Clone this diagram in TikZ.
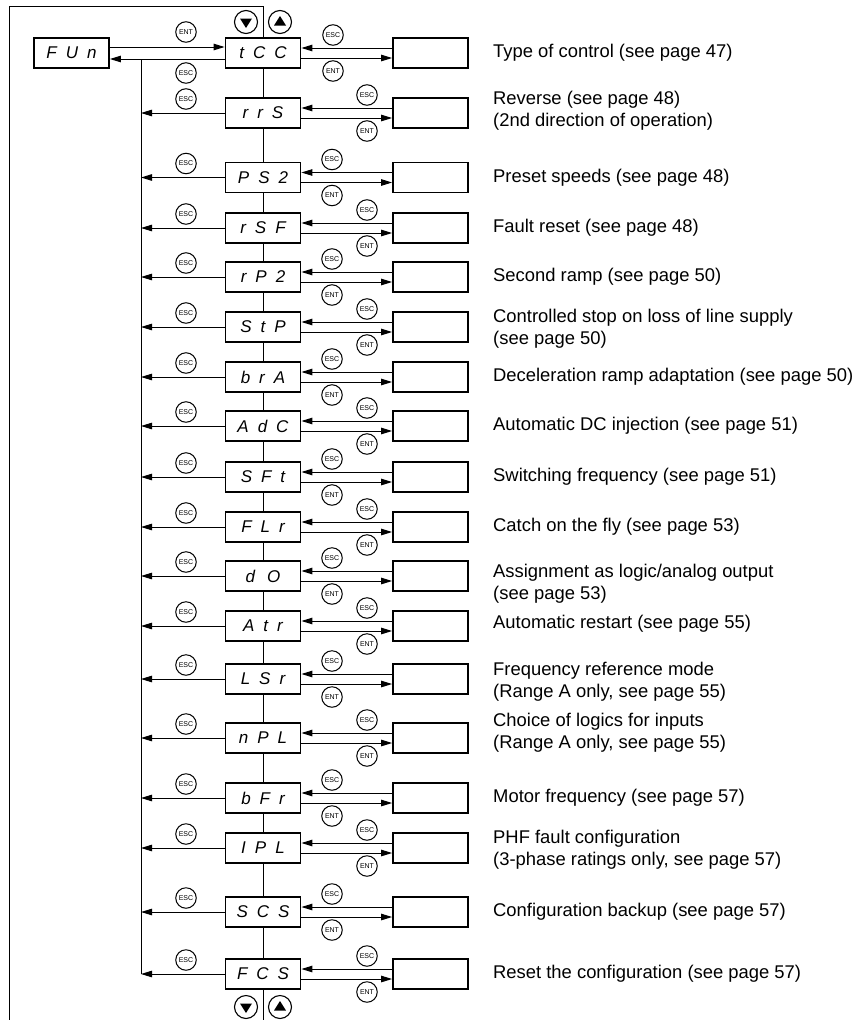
\documentclass[tikz,border=0pt]{standalone}
\usepackage{fontspec}
\setmainfont{Liberation Sans}
\newfontfamily\segfont{Liberation Sans}
\usetikzlibrary{arrows.meta}
\def\sk{9pt}
\begin{document}
\begin{tikzpicture}[x=1pt,y=-1pt,
  disp/.style={draw,line width=1.8pt,fill=white,minimum width=75pt,minimum height=30pt,inner sep=0pt,font=\segfont\itshape\fontsize{17}{17}\selectfont},
  sub/.style={draw,line width=1.8pt,fill=white,minimum width=75pt,minimum height=30pt,inner sep=0pt},
  key/.style={circle,draw,line width=1pt,fill=white,minimum size=20.5pt,inner sep=0pt,font=\fontsize{7}{7}\selectfont},
  nav/.style={circle,draw,line width=1.1pt,fill=white,minimum size=23pt,inner sep=0pt},
  ln/.style={line width=1pt},
  arr/.style={line width=1pt,-{Triangle[length=11pt,width=6.5pt]}},
  lab/.style={anchor=west,align=left,inner sep=0pt,font=\fontsize{18.4}{22}\selectfont}]
\useasboundingbox (0,0) rectangle (861,1020);

% frame and main vertical line
\coordinate (fb) at (9,1020);
\coordinate (ft) at (9,6);
\coordinate (fr) at (263,6);
\coordinate (frb) at (263,1020);
\draw[ln] (fb) -- (ft) -- (fr) -- (frb);

% navigation keys
\node[nav] (dt) at (246,22) {};
\node[nav] (ut) at (280,22) {};
\node[nav] (db) at (246,1007) {};
\node[nav] (ub) at (280,1007) {};
\foreach \k in {dt,db}{\fill[shift={(\k.center)}] (-6,-3.5) -- (6,-3.5) -- (0,6) -- cycle;}
\foreach \k in {ut,ub}{\fill[shift={(\k.center)}] (-6,3.5) -- (6,3.5) -- (0,-6) -- cycle;}

% FUn
\node[disp] (fun) at (71.5,53) {F\kern\sk U\kern\sk n};

% rows
\foreach \i/\y/\t/\ex in {
  1/53/{t\kern\sk C\kern\sk C}/333,
  2/113/{r\kern\sk r\kern\sk S}/367,
  3/177.5/{P\kern\sk S\kern\sk 2}/332,
  4/228/{r\kern\sk S\kern\sk F}/367,
  5/277/{r\kern\sk P\kern\sk 2}/332,
  6/327/{S\kern\sk t\kern\sk P}/367,
  7/377/{b\kern\sk r\kern\sk A}/332,
  8/426/{A\kern\sk d\kern\sk C}/367,
  9/477/{S\kern\sk F\kern\sk t}/332,
  10/527/{F\kern\sk L\kern\sk r}/367,
  11/576/{d\kern12pt O}/332,
  12/626/{A\kern\sk t\kern\sk r}/367,
  13/679/{L\kern\sk S\kern\sk r}/332,
  14/738/{n\kern\sk P\kern\sk L}/367,
  15/798/{b\kern\sk F\kern\sk r}/332,
  16/848/{I\kern\sk P\kern\sk L}/367,
  17/912/{S\kern\sk C\kern\sk S}/332,
  18/974/{F\kern\sk C\kern\sk S}/367}{
  \node[disp] (m\i) at (263,\y) {\t};
  \node[sub] (r\i) at (430.5,\y) {};
  \draw[arr] ([yshift=5pt]r\i.west) -- ([yshift=5pt]m\i.east);
  \draw[arr] ([yshift=-5pt]m\i.east) -- ([yshift=-5pt]r\i.west);
  \node[key] (e\i) at (\ex,\y-18) {ESC};
  \node[key] (n\i) at (\ex,\y+18) {ENT};
}

% top connection FUn <-> tCC
\draw[arr] ([yshift=6pt]fun.east) -- ([yshift=6pt]m1.west);
\draw[arr] ([yshift=-6pt]m1.west) -- ([yshift=-6pt]fun.east);
\node[key] (fent) at (186,32) {ENT};
\node[key] (fesc) at (186,73) {ESC};

% return bus
\coordinate (bus) at (141,59);
\draw[ln] (bus) -- (bus |- m18.west);
\foreach \i/\y in {2/113,3/177.5,4/228,5/277,6/327,7/377,8/426,9/477,10/527,11/576,12/626,13/679,14/738,15/798,16/848,17/912,18/974}{
  \draw[arr] (m\i.west) -- (bus |- m\i.west);
  \node[key] (b\i) at (186,\y-14) {ESC};
}

% labels
\node[lab] (l1) at (493,53) {Type of control (see page 47)};
\node[lab] (l2) at (493,111) {Reverse (see page 48)\\(2nd direction of operation)};
\node[lab] (l3) at (493,177.5) {Preset speeds (see page 48)};
\node[lab] (l4) at (493,228) {Fault reset (see page 48)};
\node[lab] (l5) at (493,277) {Second ramp (see page 50)};
\node[lab] (l6) at (493,329) {Controlled stop on loss of line supply\\(see page 50)};
\node[lab] (l7) at (493,377) {Deceleration ramp adaptation (see page 50)};
\node[lab] (l8) at (493,426) {Automatic DC injection (see page 51)};
\node[lab] (l9) at (493,477) {Switching frequency (see page 51)};
\node[lab] (l10) at (493,527) {Catch on the fly (see page 53)};
\node[lab] (l11) at (493,584) {Assignment as logic/analog output\\(see page 53)};
\node[lab] (l12) at (493,624) {Automatic restart (see page 55)};
\node[lab] (l13) at (493,682) {Frequency reference mode\\(Range A only, see page 55)};
\node[lab] (l14) at (493,733) {Choice of logics for inputs\\(Range A only, see page 55)};
\node[lab] (l15) at (493,798) {Motor frequency (see page 57)};
\node[lab] (l16) at (493,850) {PHF fault configuration\\(3-phase ratings only, see page 57)};
\node[lab] (l17) at (493,912) {Configuration backup (see page 57)};
\node[lab] (l18) at (493,974) {Reset the configuration (see page 57)};
\end{tikzpicture}
\end{document}
